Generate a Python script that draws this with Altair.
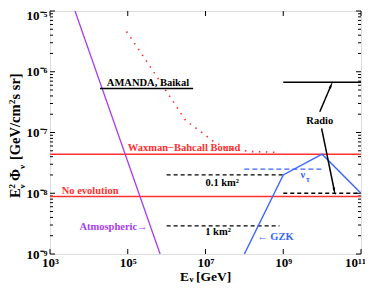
import altair as alt
import pandas as pd

FONT = "Liberation Serif"
RED = "#ff3030"
BLUE = "#3a66ff"
PURPLE = "#a83cf0"
BLACK = "#000000"

# ---------------- data ----------------
atm_x = [4.4e3, 6.8e5]
atm_y = [1e-5, 1e-9]
mpr_x = [9.3e4, 3.1e5, 1.0e6, 3.1e6, 7.2e6, 1.6e7, 3.5e7, 1.4e8, 8.0e8]
mpr_y = [4.6e-6, 1.47e-6, 4.7e-7, 1.57e-7, 1.06e-7, 7.1e-8, 5.5e-8, 4.86e-8, 4.7e-8]
wb_x = [1e3, 1e11]
wb_y = [4.4e-8, 4.4e-8]
noev_x = [1e3, 1e11]
noev_y = [8.8e-9, 8.8e-9]
amanda_x = [1.93e4, 4.8e6]
amanda_y = [5.3e-7, 5.3e-7]
radio_x = [1e9, 1e11]
radio_y = [6.7e-7, 6.7e-7]
km01_x = [1e6, 1e9]
km01_y = [2e-8, 2e-8]
km1_x = [1e6, 8e8]
km1_y = [2.9e-9, 2.9e-9]
radsens_x = [1e9, 1e11]
radsens_y = [1e-8, 1e-8]
nutau_x = [1e8, 1e10]
nutau_y = [2.5e-8, 2.5e-8]
gzk_x = [1e8, 1e9, 1e10, 1e11]
gzk_y = [1e-9, 2e-8, 4.4e-8, 1e-8]
arrow1_x = [8.7e9, 1.68e10]
arrow1_y = [2.2e-7, 5.9e-7]
arrow2_x = [9.7e9, 2.05e10]
arrow2_y = [1.17e-7, 1.12e-8]

x_major = [1e3, 1e5, 1e7, 1e9, 1e11]
x_labels = ["10³", "10⁵", "10⁷", "10⁹", "10¹¹"]
y_major = [1e-9, 1e-8, 1e-7, 1e-6, 1e-5]
y_labels = ["10⁻⁹", "10⁻⁸", "10⁻⁷", "10⁻⁶", "10⁻⁵"]
y_minor = [m * d for d in [1e-9, 1e-8, 1e-7, 1e-6] for m in range(2, 10)]

labels = pd.DataFrame([
    {"t": "AMANDA, Baikal", "x": 2.9e4, "y": 5.3e-7, "c": BLACK, "a": "left", "b": "bottom"},
    {"t": "Radio", "x": 8.7e9, "y": 1.55e-7, "c": BLACK, "a": "center", "b": "middle"},
    {"t": "Waxman−Bahcall Bound", "x": 1.0e5, "y": 4.4e-8, "c": RED, "a": "left", "b": "bottom"},
    {"t": "No evolution", "x": 2.0e3, "y": 8.8e-9, "c": RED, "a": "left", "b": "bottom"},
    {"t": "0.1 km²", "x": 2.7e7, "y": 1.49e-8, "c": BLACK, "a": "center", "b": "middle"},
    {"t": "1 km²", "x": 2.1e7, "y": 2.33e-9, "c": BLACK, "a": "center", "b": "middle"},
    {"t": "← GZK", "x": 6.3e8, "y": 1.88e-9, "c": BLUE, "a": "center", "b": "middle"},
    {"t": "Atmospheric→", "x": 4.3e4, "y": 2.8e-9, "c": PURPLE, "a": "center", "b": "middle"},
    {"t": "ν", "x": 3.2e9, "y": 2.0e-8, "c": BLUE, "a": "center", "b": "middle"},
])

# axis titles, typeset piece by piece (text, font size, offsets)
ytitle_pieces = [("E", 14.5, -30, 187), ("2", 9, -35.5, 177.5), ("ν", 9, -25, 177.5),
                 ("Φ", 14.5, -30, 170), ("ν", 9, -25, 158), ("[GeV/cm", 14.5, -30, 149),
                 ("2", 9, -35.5, 93), (" s sr]", 14.5, -30, 88.5)]
xtitle_pieces = [("E", 13.5, 130, 269.5), ("ν", 9, 139.5, 271), ("[GeV]", 13.5, 146, 269.5)]

# ---------------- helpers ----------------
xscale = alt.Scale(type="log", domain=[1e3, 1e11])
yscale = alt.Scale(type="log", domain=[1e-9, 1e-5])


def expr_labels(vals, labs):
    e = "'" + labs[-1] + "'"
    for v, l in reversed(list(zip(vals[:-1], labs[:-1]))):
        e = f"datum.value < {v * 3} ? '{l}' : ({e})"
    return e


xaxis = alt.Axis(
    values=x_major, labelExpr=expr_labels(x_major, x_labels), ticks=False, domain=False, grid=False,
    title="", labelFont=FONT, labelFontWeight="bold", labelFontSize=13, labelColor="black",
    labelPadding=2, labelFlush=False,
    labelOffset={"condition": {"test": "datum.value > 5e10", "value": -6}, "value": 0})
yaxis = alt.Axis(
    values=y_major, labelExpr=expr_labels(y_major, y_labels), ticks=False, domain=False, grid=False,
    title="", labelFont=FONT, labelFontWeight="bold", labelFontSize=13,
    labelColor="black", labelPadding=3, labelFlush=False,
    labelOffset={"condition": {"test": "datum.value > 5e-6", "value": 4}, "value": 0})


def X(f):
    return alt.X(f, scale=xscale, axis=xaxis)


def Y(f):
    return alt.Y(f, scale=yscale, axis=yaxis)


def seg_df(segs):
    rows = []
    for name, (xs, ys) in segs.items():
        for i, (x, y) in enumerate(zip(xs, ys)):
            rows.append({"seg": name, "x": x, "y": y, "o": i})
    return pd.DataFrame(rows)


def lines(segs, color, width=1.5, dash=None):
    kw = dict(color=color, strokeWidth=width, clip=True)
    if dash:
        kw["strokeDash"] = dash
    return alt.Chart(seg_df(segs)).mark_line(**kw).encode(
        x=X("x:Q"), y=Y("y:Q"), detail="seg:N", order="o:Q")


# inward ticks
W, H = 311, 243
xt = pd.DataFrame({"x": x_major})
yt = pd.DataFrame({"y": y_major})
ym = pd.DataFrame({"y": y_minor})


def yticks(df, x0, x1):
    return alt.Chart(df).mark_rule(color="black", strokeWidth=1).encode(
        y=Y("y:Q"), x=alt.value(x0), x2=alt.value(x1))


def xticks(df, y0, y1):
    return alt.Chart(df).mark_rule(color="black", strokeWidth=1).encode(
        x=X("x:Q"), y=alt.value(y0), y2=alt.value(y1))


ticks = [yticks(yt, 0, 5), yticks(yt, W, W - 5), yticks(ym, 0, 3), yticks(ym, W, W - 3),
         xticks(xt, H, H - 5), xticks(xt, 0, 5)]

layers = [
    *ticks,
    lines({"wb": (wb_x, wb_y), "ne": (noev_x, noev_y)}, RED, 1.5),
    lines({"mpr": (mpr_x, mpr_y)}, RED, 1.6, [1.5, 5.5]),
    lines({"atm": (atm_x, atm_y)}, PURPLE, 1.3),
    lines({"am": (amanda_x, amanda_y), "ra": (radio_x, radio_y)}, BLACK, 1.5),
    lines({"k01": (km01_x, km01_y), "k1": (km1_x, km1_y), "rs": (radsens_x, radsens_y)}, BLACK, 1.3, [4, 3]),
    lines({"nt": (nutau_x, nutau_y)}, BLUE, 1.3, [5, 3]),
    lines({"gzk": (gzk_x, gzk_y)}, BLUE, 1.4),
    lines({"a1": (arrow1_x, arrow1_y), "a2": (arrow2_x, arrow2_y)}, BLACK, 1.5),
]

heads = pd.DataFrame({"x": [arrow1_x[1], arrow2_x[1]], "y": [arrow1_y[1], arrow2_y[1]], "ang": [23, 168]})
layers.append(alt.Chart(heads).mark_point(shape="wedge", filled=True, color="black", size=90, opacity=1).encode(
    x=X("x:Q"), y=Y("y:Q"), angle=alt.Angle("ang:Q", scale=None)))

for b in ["bottom", "middle"]:
    for a in ["left", "center"]:
        sub = labels[(labels.b == b) & (labels.a == a)]
        if len(sub) == 0:
            continue
        layers.append(alt.Chart(sub).mark_text(font=FONT, fontWeight="bold", fontSize=10.5, align=a,
                                               baseline=b, dy=-1 if b == "bottom" else 0).encode(
            x=X("x:Q"), y=Y("y:Q"), text="t:N", color=alt.Color("c:N", scale=None)))

tau = pd.DataFrame({"t": ["τ"], "x": [3.2e9], "y": [2.0e-8]})
layers.append(alt.Chart(tau).mark_text(font=FONT, fontWeight="bold", fontSize=8, dx=5, dy=5, color=BLUE).encode(
    x=X("x:Q"), y=Y("y:Q"), text="t:N"))

for t, s, px, py in ytitle_pieces:
    layers.append(alt.Chart(pd.DataFrame({"t": [t]})).mark_text(
        font=FONT, fontWeight="bold", fontSize=s, angle=270, align="left", baseline="alphabetic",
        color="black").encode(x=alt.value(px), y=alt.value(py), text="t:N"))
for t, s, px, py in xtitle_pieces:
    layers.append(alt.Chart(pd.DataFrame({"t": [t]})).mark_text(
        font=FONT, fontWeight="bold", fontSize=s, align="left", baseline="alphabetic",
        color="black").encode(x=alt.value(px), y=alt.value(py), text="t:N"))

chart = alt.layer(*layers).properties(
    width=W, height=H,
    autosize=alt.AutoSizeParams(type="none"),
    padding={"left": 42, "top": 3, "right": 4, "bottom": 29},
).configure_view(stroke="black", strokeWidth=1.5).configure(background="white")

chart.save("out.html", embed_options={"renderer": "svg", "actions": False})
